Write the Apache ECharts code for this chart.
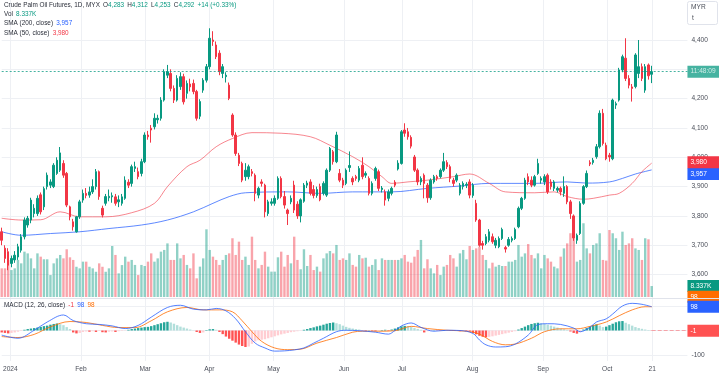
<!DOCTYPE html>
<html><head><meta charset="utf-8">
<script src="https://cdn.jsdelivr.net/npm/echarts@6/dist/echarts.min.js"></script>
<style>html,body{margin:0;padding:0;background:#fff}#c{width:719px;height:379px}</style>
</head><body><div id="c"></div>
<script>
// ---- data ----
const instrument = 'Crude Palm Oil Futures, 1D, MYX';
const countdown = '11:48:09';
// [open, close, low, high] per trading day, Jan 2 – Oct 21 2024
const candles = [
[3746,3717,3700,3760],[3690,3655,3640,3700],[3678,3632,3615,3690],[3638,3655,3625,3665],[3650,3666,3640,3680],
[3660,3695,3650,3705],[3683,3729,3675,3738],[3729,3786,3720,3795],[3769,3792,3760,3800],[3786,3854,3775,3862],
[3808,3826,3795,3840],[3808,3860,3800,3870],[3872,3814,3805,3880],[3831,3893,3820,3900],[3900,3939,3890,3948],
[3905,3916,3895,3925],[3900,3973,3895,3980],[3945,3990,3940,4000],[3956,4015,3950,4035],[3979,3939,3930,3990],
[3945,3837,3830,3950],[3831,3797,3785,3835],[3780,3763,3750,3790],[3746,3797,3743,3800],[3797,3848,3790,3855],
[3854,3877,3845,3890],[3877,3870,3860,3895],[3871,3882,3862,3900],[3882,3900,3875,3925],[3900,3951,3890,3960],
[3951,3866,3855,3955],[3826,3803,3795,3835],[3843,3866,3835,3875],[3862,3867,3850,3890],[3865,3869,3845,3880],
[3865,3843,3835,3875],[3848,3855,3830,3870],[3843,3865,3835,3875],[3860,3922,3855,3935],[3915,3905,3895,3925],
[3911,3968,3900,3975],[3962,3968,3950,3985],[3951,3934,3925,3965],[3945,3985,3935,3995],[3985,4076,3980,4085],
[4076,4070,4060,4090],[4099,4093,4050,4110],[4104,4133,4095,4150],[4128,4133,4115,4145],[4133,4195,4125,4205],
[4195,4292,4190,4300],[4280,4292,4270,4315],[4286,4235,4225,4300],[4235,4195,4185,4245],[4195,4269,4190,4280],
[4241,4275,4230,4290],[4275,4189,4180,4285],[4218,4252,4200,4262],[4250,4240,4225,4268],[4252,4224,4215,4265],
[4224,4133,4125,4230],[4140,4190,4130,4198],[4229,4263,4220,4270],[4263,4309,4255,4318],[4309,4406,4300,4440],
[4400,4395,4380,4430],[4383,4343,4335,4395],[4355,4292,4280,4365],[4286,4309,4270,4318],[4275,4280,4255,4290],
[4246,4201,4195,4255],[4144,4076,4070,4150],[4076,4013,4005,4085],[4007,3979,3970,4015],[3979,3922,3915,3985],
[3934,3956,3920,3980],[3934,3968,3925,3975],[3951,3945,3935,3960],[3939,3877,3850,3945],[3871,3894,3860,3900],
[3916,3911,3900,3925],[3905,3814,3795,3910],[3808,3848,3800,3855],[3843,3848,3835,3860],[3843,3860,3835,3870],
[3860,3928,3855,3935],[3928,3866,3860,3935],[3866,3837,3825,3885],[3820,3808,3769,3825],[3848,3860,3840,3870],
[3905,3820,3810,3920],[3840,3800,3790,3850],[3800,3855,3778,3860],[3850,3905,3845,3912],[3905,3912,3895,3920],
[3916,3877,3870,3925],[3890,3870,3860,3905],[3870,3890,3862,3900],[3900,3855,3850,3910],[3877,3911,3870,3918],
[3871,3956,3865,3962],[3956,4030,3950,4035],[4019,3985,3975,4025],[3985,4076,3980,4087],[3945,3922,3915,3960],
[3922,3905,3895,3930],[3911,3956,3905,3962],[3965,3972,3950,4020],[3928,3916,3905,3935],[3934,3928,3920,3940],
[3922,3962,3915,3970],[3973,3934,3925,4000],[3939,3945,3930,3952],[3928,3877,3870,3935],[3877,3911,3870,3918],
[3928,3962,3920,3968],[3951,3894,3885,3958],[3890,3895,3880,3902],[3882,3854,3835,3890],[3860,3882,3850,3890],
[3877,3894,3870,3900],[3915,3905,3898,3922],[3960,3980,3955,3990],[3979,4087,3975,4093],[4093,4082,4070,4116],
[4087,4070,4060,4100],[4068,4038,4030,4075],[4001,3956,3950,4008],[3956,3916,3905,3962],[3916,3928,3905,3935],
[3939,3911,3860,3945],[3905,3862,3845,3912],[3862,3922,3855,3928],[3916,3934,3910,3940],[3934,3928,3920,3940],
[3934,3956,3928,3962],[3956,3985,3950,4015],[3982,3968,3960,3990],[3968,3928,3915,3975],[3922,3911,3900,3930],
[3922,3939,3915,3945],[3877,3905,3870,3912],[3900,3911,3890,3918],[3905,3908,3895,3915],[3916,3871,3860,3925],
[3870,3905,3862,3912],[3843,3786,3780,3855],[3786,3700,3695,3790],[3706,3700,3685,3715],[3706,3729,3700,3738],
[3717,3746,3710,3755],[3729,3712,3705,3740],[3700,3717,3690,3725],[3695,3723,3690,3730],[3723,3754,3718,3760],
[3692,3687,3675,3698],[3700,3720,3695,3728],[3717,3723,3710,3730],[3723,3754,3718,3760],[3763,3826,3758,3832],
[3826,3860,3820,3865],[3860,3922,3855,3930],[3934,3916,3905,3945],[3922,3905,3898,3935],[3905,3934,3900,3940],
[3945,3979,3940,3995],[3922,3928,3910,3935],[3916,3934,3905,3942],[3939,3882,3875,3945],[3916,3900,3890,3925],
[3894,3916,3885,3922],[3888,3894,3880,3900],[3894,3882,3870,3900],[3877,3900,3865,3935],[3900,3848,3840,3905],
[3848,3808,3790,3855],[3800,3725,3715,3805],[3717,3734,3705,3740],[3740,3843,3735,3850],[3843,3900,3838,3905],
[3900,3945,3895,3955],[3982,3977,3970,3990],[3982,3990,3975,3998],[4002,4036,3995,4045],[4036,4150,4030,4160],
[4150,4047,4040,4165],[4041,3995,3990,4050],[4007,4001,3985,4015],[3995,4195,3990,4200],[4178,4183,4165,4190],
[4195,4298,4190,4305],[4298,4343,4290,4350],[4338,4269,4260,4406],[4269,4246,4235,4280],[4240,4235,4190,4250],
[4241,4349,4235,4355],[4286,4309,4270,4400],[4309,4269,4260,4320],[4229,4309,4220,4318],[4315,4278,4265,4320],
[4283,4292,4253,4312]
];
// volume, thousands
const volumes = [
21.8,21.8,28.2,20.5,21.8,28.2,25.6,34.5,33.2,29.4,21.8,33.2,30.7,28.7,28.7,16.7,25.6,29.4,32,29.4,
36.3,30.2,28.2,23,21.8,26.9,26.9,23,21.8,19.2,25.6,23,19.2,21.8,38.8,32,18,24.3,30.7,26.9,
28.2,24.4,16.7,24.4,23.6,26.9,33.2,26.9,29.4,34.5,35.8,40.8,28.2,28.2,40.8,29.4,32,24.4,21.8,33.2,
14.2,23.1,29.4,51.5,35.8,30.7,28.2,24.4,28.2,32,33.2,44.7,32,42.1,28.2,30.7,24.4,45.9,28.2,21.8,
24.4,34.5,23.1,19.3,19.3,30.2,34.5,23.1,32,25.6,45.9,28.2,21.1,36.3,23.6,32,20.5,23.1,19.3,29.4,
33.2,35,33.2,39.6,28.2,29.4,28.2,33.2,24.4,23.1,32,29.4,29.9,23.1,24.4,28.7,20.5,29.4,28.2,28.2,
28.2,
28.2,28.2,29.4,32,26.9,26.1,30.7,35.8,43.4,21.8,28.7,21.8,18,24.4,16.7,23.1,24.4,32,29.4,23.1,
33.2,35.8,28.7,38.8,35.8,37,38.3,32,28.2,21.8,26.1,23.1,24.4,23.6,23.6,26.9,26.9,28.2,39.6,
30.7,33.2,40.3,32,29.4,33.2,21.8,32,29.4,26.9,23.1,21.8,30.7,37,40.8,48.5,
45,
26.9,28.2,56.1,37,33.2,39.6,40.8,48.5,28.2,27.7,51,48.5,44.7,35.8,49.7,39.6,40.8,44.7,37,35.8,
28.2,44.7,43.9,8.337
];
// moving averages read at sample bars: [barIndex, value]
const sma200 = [[0,3746],[6,3734],[15,3740],[24,3746],[33,3757],[43,3769],[51,3786],[59,3814],[65,3843],[70,3866],[75,3879],[88,3882],[98,3877],[108,3882],[120,3882],[131,3894],[141,3902],[150,3911],[164,3911],[174,3916],[180,3912],[187,3916],[191,3928],[195,3943],[200,3957]];
const sma50 = [[0,3792],[6,3786],[12,3787],[18,3814],[24,3797],[32,3797],[40,3811],[47,3843],[51,3900],[57,3968],[61,3990],[66,4036],[71,4064],[77,4084],[86,4082],[95,4070],[101,4041],[108,4002],[113,3968],[117,3934],[120,3911],[125,3916],[131,3922],[139,3934],[144,3943],[150,3911],[155,3882],[164,3879],[170,3882],[174,3866],[179,3857],[182,3860],[187,3871],[190,3877],[194,3911],[197,3951],[200,3980]];
// MACD (12,26) lines read at sample bars
const macdLine = [[0,-19],[5,-32],[10,1],[14,35],[19,64],[22,41],[26,28],[30,25],[34,19],[38,8],[42,21],[46,55],[51,95],[55,104],[59,88],[63,85],[66,91],[69,81],[72,48],[75,-5],[78,-52],[81,-72],[84,-85],[87,-84],[90,-80],[93,-72],[96,-52],[99,-32],[103,-5],[106,1],[110,-1],[115,-7],[119,-15],[121,0],[123,19],[126,31],[129,13],[133,-3],[137,1],[141,0],[145,-12],[147,-39],[149,-59],[152,-68],[155,-67],[158,-56],[162,-19],[165,24],[168,28],[172,25],[176,10],[178,-5],[181,13],[183,35],[186,48],[188,68],[191,101],[194,112],[197,108],[200,98]];
const signalLine = [[0,-25],[5,-29],[10,-16],[15,15],[21,37],[26,33],[31,21],[36,12],[41,12],[46,40],[51,77],[57,95],[62,85],[67,85],[71,77],[74,40],[77,-5],[80,-45],[84,-72],[88,-79],[92,-77],[97,-52],[103,-29],[108,-7],[111,-3],[116,-3],[121,-1],[126,17],[131,8],[137,1],[143,-3],[147,-15],[151,-45],[155,-59],[158,-56],[163,-32],[167,-5],[172,7],[177,7],[181,17],[186,35],[190,61],[194,85],[198,98],[200,98]];
const hist = [
-8,-10,-12,-10,-8,-5,-2, 3,6,8,10, 12,15,18,20,24,27,29,26,22, 14,6, -8,-12,-10,
-6,-4,-5,-3,-6,-2,-7,-8,-5,-4,-6,-3,-2,-1, 3,6,8,10,12,14,15,18, 22,26,30,34,36,33,28,
22,16,12,8,4,1, -6,-10,-8, 2,5,6,3, -6,-15,-25,-34,-42,-50,-58,-64,-68,-66, -55,-45,-40,-38,-36,
-32,-28,-24,-20,-16,-13,-10,-7,-5,-3,-1, 3,6,10,13,17,20,24,28,31,33, 30,26,20,15,11,8,6,
4,-1,-2,1,-2,-3,-1,2,3,-2,4, 8,13,17,19,18, 14,10,6,3, -8,-3,
-2,1,-1,-2,2,1,-1,-2,-1,-3,-2,-3,-4, -10,-16,-22,-26,-28, -26,-24,-21,-18,-15,-12,-9,-6,
-3,4,10,16,22,27,30,32, 30,27,24,20,16,12,8,5,2, -4,-10,-13,-7, 4,10,16,22,25, 20,14,16,22,
28,34,38,39, 32,26,20,14,10,7,4,2,-1
];
const priceTicks = [3600,3700,3800,3900,4000,4100,4200,4300,4400];
const macdTicks = [-100];
const dateTicks = [[0,'2024'],[22,'Feb'],[42,'Mar'],[62,'Apr'],[82,'May'],[104,'Jun'],[122,'Jul'],[144,'Aug'],[166,'Sep'],[186,'Oct'],[200,'21']];
const padBars = 11;

// ---- styling / layout ----
const UP='#089981', DN='#f23645', BLUE='#2962ff', ORANGE='#ff6d00';
const FONT="'Liberation Sans', Arial, sans-serif";
const TXT='#2a2e39', AX='#4a4e59', GRID='#eef0f4';
const L=1.7, R=31.55;
const n = candles.length;
const cats = []; for (let i=0;i<n+padBars;i++) cats.push(String(i));
const tickMap = {}; dateTicks.forEach(([i,l])=>tickMap[i]=l);
const fmt = v => Number(v).toLocaleString('en-US');
const last = candles[n-1], prev = candles[n-2];
const lastClose = last[1];
const chg = last[1]-prev[1];
const pct = chg/prev[1]*100;
const sgn = chg>=0?'+':'';
const lastVol = volumes[volumes.length-1];
const s200Last = sma200[sma200.length-1][1], s50Last = sma50[sma50.length-1][1];
const macdLast = macdLine[macdLine.length-1][1], sigLast = signalLine[signalLine.length-1][1], histLast = hist[hist.length-1];

const boxLabel = (text,bg,offY)=>({show:true,position:'end',distance:0,formatter:text,backgroundColor:bg,color:'#fff',
  fontSize:6.6,fontFamily:FONT,padding:[2,3],width:26,lineHeight:8,align:'left',offset:[0,offY||0]});
const hiddenLine = {color:'rgba(0,0,0,0)',width:0};

const volData = volumes.map((v,i)=>({value:v,itemStyle:{color: candles[i][1]>=candles[i][0]?'rgba(8,153,129,0.45)':'rgba(242,54,69,0.45)'}}));
const histData = hist.map((h,i)=>{const p=i>0?hist[i-1]:0;
  const c = h>=0 ? (h>=p?'#26a69a':'#b2dfdb') : (h<p?'#ff5252':'#ffcdd2');
  return {value:h,itemStyle:{color:c}};});

const xBase = (gi,show)=>({type:'category',gridIndex:gi,data:cats,boundaryGap:false,show:show,
  axisLine:{show:false},axisTick:{show:false}});

const legend = [
  `{t|${instrument}}\u2002{k|O}{v|${fmt(last[0])}}\u2002{k|H}{v|${fmt(last[3])}}\u2002{k|L}{v|${fmt(last[2])}}\u2002{k|C}{v|${fmt(last[1])}}\u2002{v|${sgn}${chg} (${sgn}${pct.toFixed(2)}%)}`,
  `{k|Vol}\u2002{v|${lastVol.toFixed(3)}K}`,
  `{k|SMA (200, close)}\u2002{b|${fmt(s200Last)}}`,
  `{k|SMA (50, close)}\u2002{r|${fmt(s50Last)}}`
];
const rs = c=>({fill:c,fontSize:6.4,fontFamily:FONT});
const rich = {t:rs(TXT),k:rs(TXT),v:rs(UP),b:rs(BLUE),r:rs(DN),o:rs(ORANGE)};
const legendY=[6.5,15.5,24.5,34];
const graphics = legend.map((t,i)=>({type:'text',left:4,top:legendY[i]-4,z:50,style:{text:t,rich:rich,fill:TXT,fontSize:6.4,fontFamily:FONT}}));
graphics.push({type:'text',left:4,top:302,z:50,style:{text:`{k|MACD (12, 26, close)}\u2002{r|${histLast}}\u2002{b|${macdLast}}\u2002{o|${sigLast}}`,rich:rich,fill:TXT,fontSize:6.4,fontFamily:FONT}});
graphics.push({type:'line',z:40,shape:{x1:0,y1:298.5,x2:719,y2:298.5},style:{stroke:'#e0e3eb',lineWidth:1}});
graphics.push({type:'rect',z:40,shape:{x:687.5,y:1.5,width:30,height:23,r:2},style:{fill:'#fff',stroke:'#e0e3eb',lineWidth:1}});
graphics.push({type:'text',z:41,left:691,top:4,style:{text:'MYR',fill:AX,fontSize:6.6,fontFamily:FONT}});
graphics.push({type:'text',z:41,left:692,top:15,style:{text:'t',fill:AX,fontSize:6.6,fontFamily:FONT}});

const option = {
  animation:false,
  backgroundColor:'#fff',
  grid:[
    {left:L,right:R,top:0,bottom:18},          // background / date axis
    {left:L,right:R,top:10.68,bottom:75.1},    // price
    {left:L,right:R,top:205,bottom:82},        // volume
    {left:L,right:R,top:282,bottom:-3}         // macd
  ],
  xAxis:[
    Object.assign(xBase(0,true),{axisLabel:{show:true,interval:(i)=>tickMap[i]!==undefined,formatter:(v,i)=>tickMap[i]||'',
      color:AX,fontSize:6.6,fontFamily:FONT,margin:5},
      splitLine:{show:true,interval:(i)=>tickMap[i]!==undefined,lineStyle:{color:GRID,width:1}}}),
    xBase(1,false), xBase(2,false), xBase(3,false)
  ],
  yAxis:[
    {gridIndex:0,show:false},
    {gridIndex:1,type:'value',position:'right',min:3500,max:4500,interval:100,scale:true,
      axisLine:{show:false},axisTick:{show:false},
      axisLabel:{color:AX,fontSize:6.6,fontFamily:FONT,margin:4,
        formatter:v=>(priceTicks.includes(v)&&Math.abs(v-lastClose)>25)?fmt(v):''},
      splitLine:{show:true,showMinLine:false,showMaxLine:false,lineStyle:{color:GRID}}},
    {gridIndex:2,type:'value',min:0,max:70,show:false},
    {gridIndex:3,type:'value',position:'right',min:-200,max:200,interval:100,
      axisLine:{show:false},axisTick:{show:false},
      axisLabel:{color:AX,fontSize:6.6,fontFamily:FONT,margin:4,formatter:v=>macdTicks.includes(v)?String(v):''},
      splitLine:{show:true,showMinLine:false,showMaxLine:false,lineStyle:{color:GRID}}}
  ],
  series:[
    {type:'bar',name:'Vol',xAxisIndex:2,yAxisIndex:2,data:volData,barWidth:2.4,z:1,
      markLine:{silent:true,symbol:'none',data:[{yAxis:lastVol}],lineStyle:hiddenLine,label:boxLabel(lastVol.toFixed(3)+'K',UP)}},
    {type:'line',name:'SMA200',xAxisIndex:1,yAxisIndex:1,data:sma200,smooth:0.35,showSymbol:false,z:3,
      lineStyle:{color:BLUE,width:1,opacity:0.75},
      markLine:{silent:true,symbol:'none',data:[{yAxis:s200Last}],lineStyle:hiddenLine,label:boxLabel(fmt(s200Last),BLUE,4)}},
    {type:'line',name:'SMA50',xAxisIndex:1,yAxisIndex:1,data:sma50,smooth:0.35,showSymbol:false,z:3,
      lineStyle:{color:DN,width:1,opacity:0.6},
      markLine:{silent:true,symbol:'none',data:[{yAxis:s50Last}],lineStyle:hiddenLine,label:boxLabel(fmt(s50Last),DN,-1)}},
    {type:'candlestick',name:'CPO',xAxisIndex:1,yAxisIndex:1,data:candles,barWidth:2,z:4,
      itemStyle:{color:UP,color0:DN,borderColor:UP,borderColor0:DN,borderWidth:1},
      markLine:{silent:true,symbol:'none',data:[{yAxis:lastClose}],
        lineStyle:{color:UP,opacity:0.75,type:[2,2],width:1},label:boxLabel(countdown,UP)}},
    {type:'bar',name:'Hist',xAxisIndex:3,yAxisIndex:3,data:histData,barWidth:2.4,z:2,
      markLine:{silent:true,symbol:'none',data:[[{coord:[n-1,histLast]},{coord:[cats.length-1,histLast]}]],
        lineStyle:{color:'#f5a3a8',type:'dashed',width:1},label:boxLabel(String(histLast),'#ff5252')}},
    {type:'line',name:'Signal',xAxisIndex:3,yAxisIndex:3,data:signalLine,smooth:0.35,showSymbol:false,z:3,
      lineStyle:{color:ORANGE,width:1,opacity:0.8},
      markLine:{silent:true,symbol:'none',data:[{yAxis:sigLast}],lineStyle:hiddenLine,label:boxLabel(String(sigLast),ORANGE,-10)}},
    {type:'line',name:'MACD',xAxisIndex:3,yAxisIndex:3,data:macdLine,smooth:0.35,showSymbol:false,z:3,
      lineStyle:{color:BLUE,width:1,opacity:0.8},
      markLine:{silent:true,symbol:'none',data:[{yAxis:macdLast}],lineStyle:hiddenLine,label:boxLabel(String(macdLast),BLUE)}}
  ],
  graphic:graphics
};
const chart = echarts.init(document.getElementById('c'),null,{renderer:'canvas'});
chart.setOption(option);
</script></body></html>
